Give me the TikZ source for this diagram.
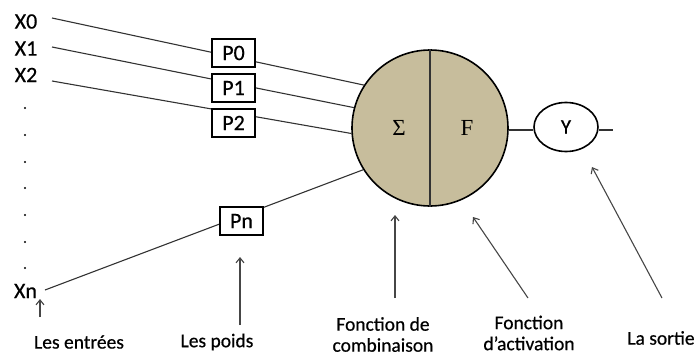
\documentclass[tikz,border=0pt]{standalone}
\usepackage{fontspec}
\setmainfont{Carlito}[FakeBold=0.5]
\newfontfamily\symfont{Liberation Serif}
\usetikzlibrary{arrows.meta,shapes.geometric}
\definecolor{neuronfill}{RGB}{199,189,156}
\definecolor{wire}{RGB}{50,50,50}
\definecolor{pointer}{RGB}{70,70,70}
\tikzset{
  inlabel/.style={inner sep=0pt, font=\fontsize{22}{24}\selectfont},
  weightbox/.style={draw=black, line width=1.6pt, fill=white, minimum width=43pt,
    minimum height=28pt, inner sep=0pt, font=\fontsize{22}{24}\selectfont},
  wireline/.style={draw=wire, line width=1.1pt},
  caption/.style={inner sep=0pt, align=center, font=\fontsize{19.5}{21}\selectfont},
  pointerline/.style={draw=pointer, line width=1.1pt, -{Straight Barb[length=5pt,width=8pt]}},
  dotmark/.style={circle, fill=black, inner sep=0pt, minimum size=2.4pt}
}
\begin{document}
\begin{tikzpicture}[x=1pt,y=-1pt]
\useasboundingbox (0,0) rectangle (697,356);

% neuron body: summation and activation halves
\node (N) [circle, draw=black, line width=1.6pt, fill=neuronfill, minimum size=156pt, inner sep=0pt] at (430,128) {};
\draw[line width=1.1pt, draw=wire] (N.north) -- (N.south);
\node (sigma) at (399,128) {\symfont\fontsize{23}{25}\selectfont Σ};
\node (act) at (467,128) {\symfont\fontsize{23}{25}\selectfont F};

% output
\node (Y) [ellipse, draw=black, line width=1.6pt, fill=white, minimum width=64pt, minimum height=49pt, inner sep=0pt,
  font=\fontsize{21}{23}\selectfont] at (566,127) {Y};
\coordinate (out) at (613,130);
\draw[wireline] (N.east |- 0,130) -- (Y.west |- 0,130);
\draw[wireline] (Y.east |- 0,130) -- (out);

% inputs
\node (X0) [inlabel] at (26,21.5) {X0};
\node (X1) [inlabel] at (26,48.5) {X1};
\node (X2) [inlabel] at (26,75) {X2};
\node (Xn) [inlabel] at (25.5,291) {Xn};
\foreach \i/\yy in {1/108,2/135,3/162,4/188,5/215,6/242,7/268}
  \node (dot\i) [dotmark] at (25,\yy) {};

\coordinate (s0) at (52,18);
\coordinate (s1) at (52,47);
\coordinate (s2) at (52,81);
\coordinate (sn) at (45,290);

% input wires into the neuron
\draw[wireline] (s0) -- (N.147);
\draw[wireline] (s1) -- (N.165);
\draw[wireline] (s2) -- (N.184);
\draw[wireline] (sn) -- (N.212);

% weights sitting on the wires
\node (P0) [weightbox] at (233.5,53) {P0};
\node (P1) [weightbox] at (233.5,88) {P1};
\node (P2) [weightbox] at (233.5,123) {P2};
\node (Pn) [weightbox] at (241.5,221) {Pn};

% captions
\node (Lin) [caption] at (79,342) {Les entrées};
\node (Lw) [caption] at (217,342) {Les poids};
\node (Lc) [caption] at (383,334.5) {Fonction de\\combinaison};
\node (La) [caption] at (529,333) {Fonction\\d’activation};
\node (Lo) [caption] at (661,338) {La sortie};

\coordinate (a1t) at (40,317);  \coordinate (a1h) at (40,299);
\coordinate (a2t) at (240,325); \coordinate (a2h) at (240,257);
\coordinate (a3t) at (395,298); \coordinate (a3h) at (395,215);
\coordinate (a4t) at (528,298); \coordinate (a4h) at (473,217);
\coordinate (a5t) at (662,298); \coordinate (a5h) at (592,167);
\draw[pointerline] (a1t) -- (a1h);
\draw[pointerline] (a2t) -- (a2h);
\draw[pointerline] (a3t) -- (a3h);
\draw[pointerline] (a4t) -- (a4h);
\draw[pointerline] (a5t) -- (a5h);
\end{tikzpicture}
\end{document}
